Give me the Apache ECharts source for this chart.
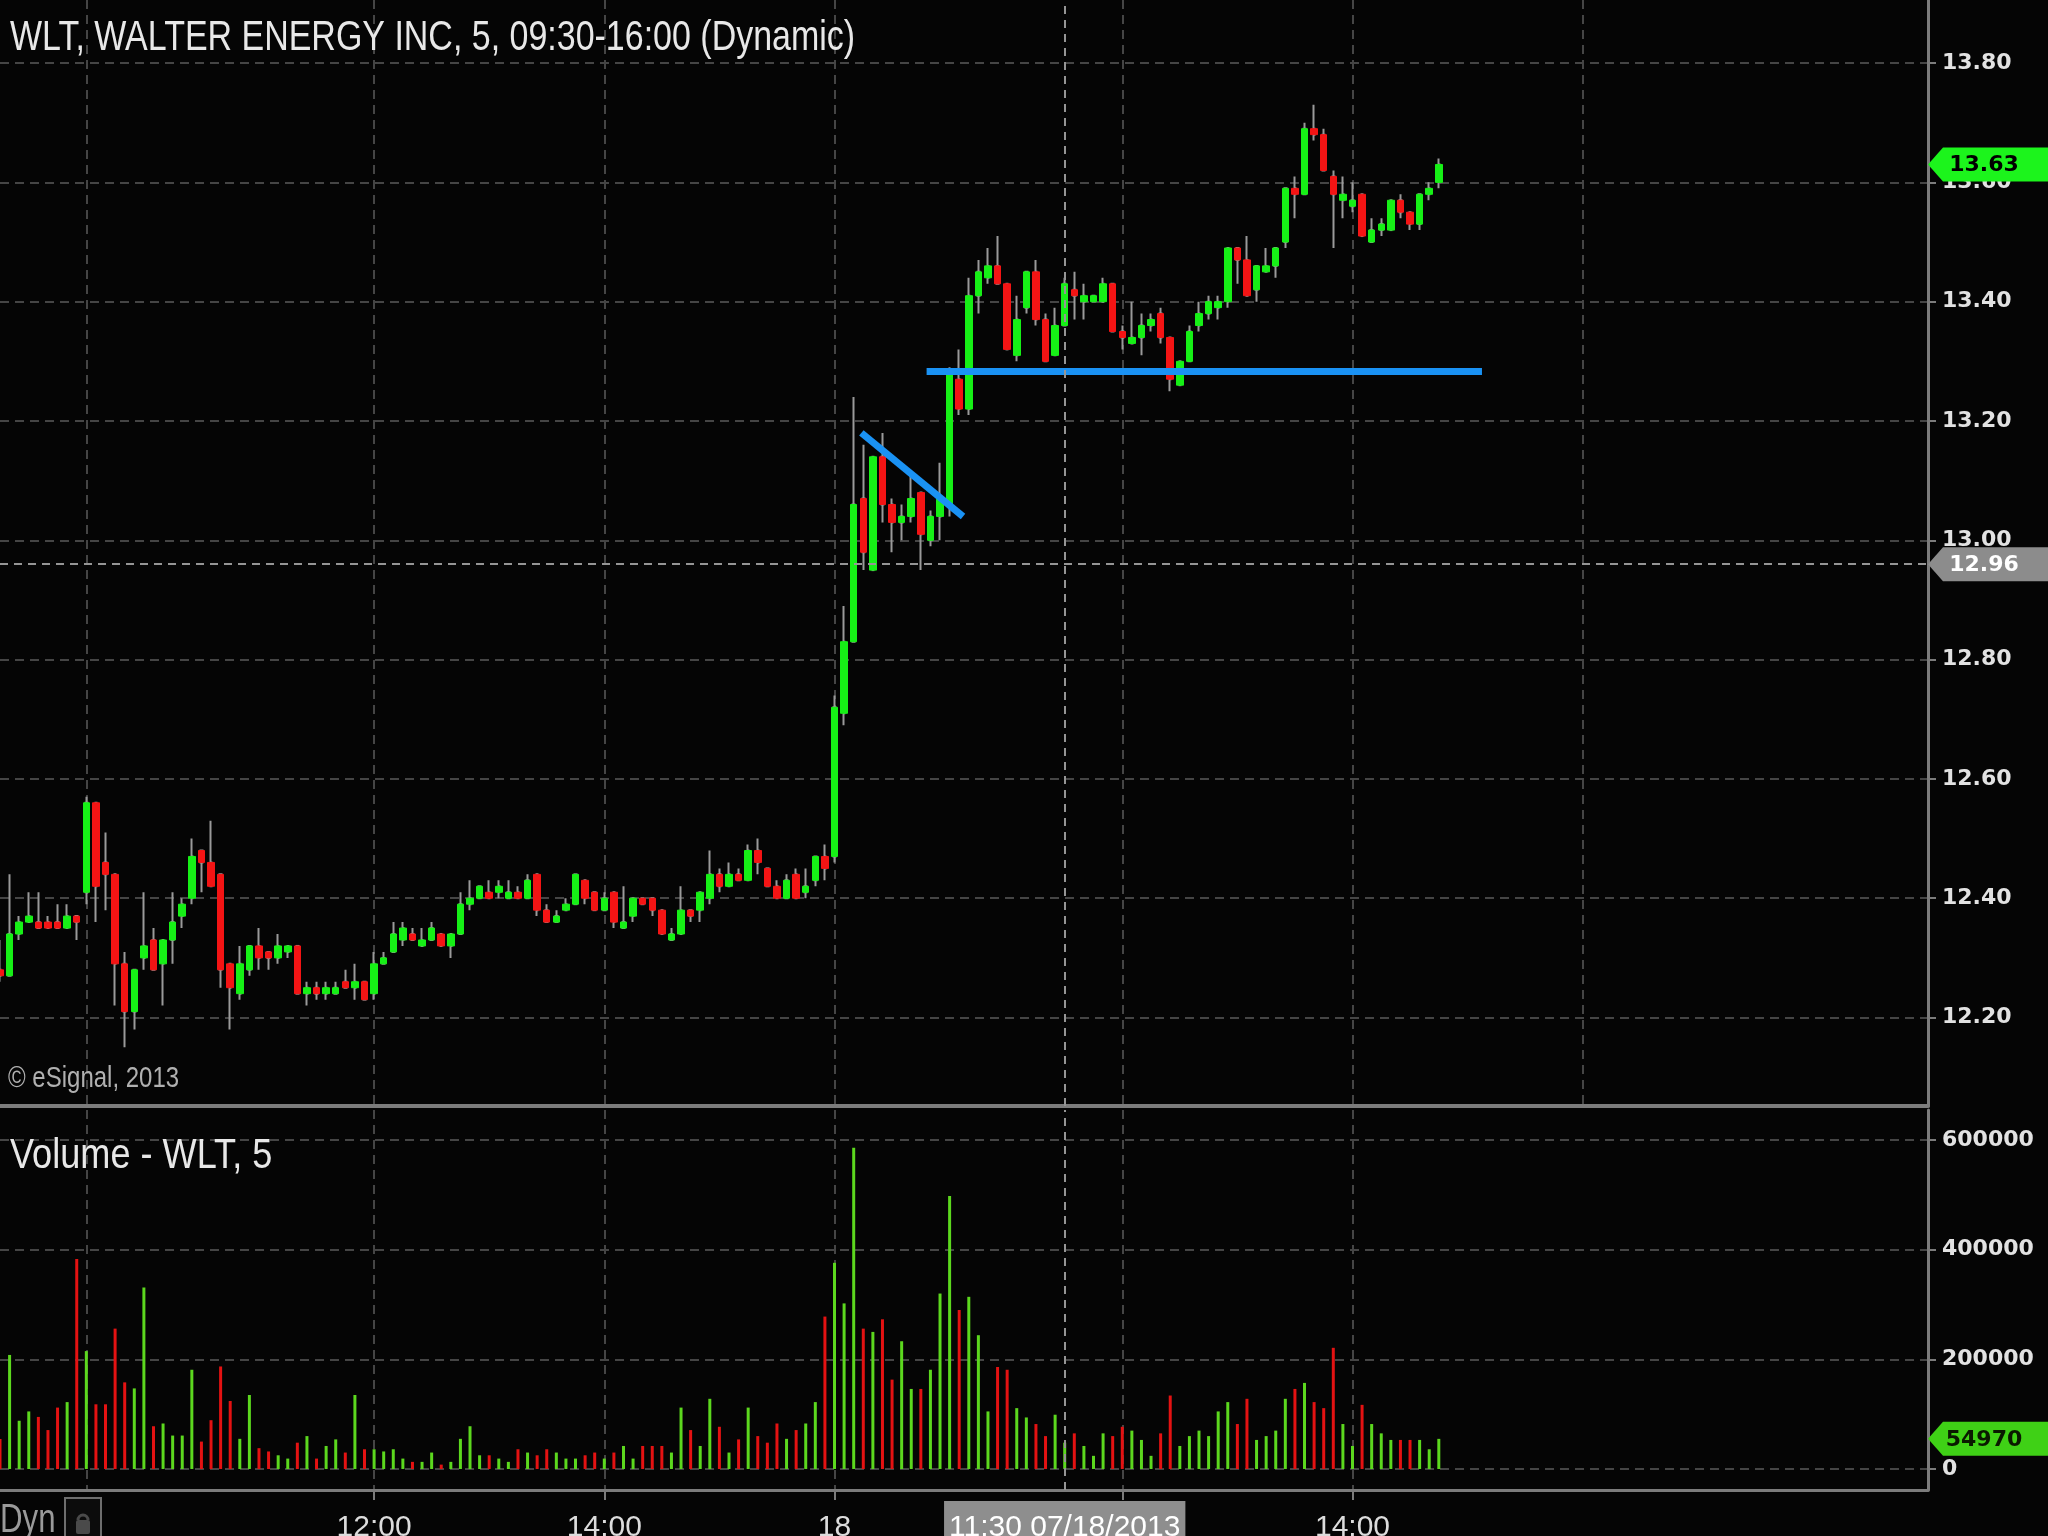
<!DOCTYPE html>
<html><head><meta charset="utf-8">
<script src="https://cdn.jsdelivr.net/npm/echarts@6/dist/echarts.min.js"></script>
<style>html,body{margin:0;padding:0;background:#050505;}#chart{width:2048px;height:1536px;}</style>
</head><body><div id="chart"></div>
<script>
// ---------- DATA ----------
// 5-minute bars, [open, close, low, high]
const day16Ohlc = [
[12.28,12.27,12.26,12.33],[12.27,12.34,12.27,12.44],[12.34,12.36,12.33,12.37],[12.36,12.37,12.36,12.41],
[12.36,12.35,12.35,12.41],[12.36,12.35,12.35,12.37],[12.36,12.35,12.35,12.39],[12.35,12.37,12.35,12.39],
[12.37,12.36,12.33,12.37]
];
const day17Ohlc = [
[12.41,12.56,12.39,12.57],[12.56,12.42,12.36,12.56],[12.46,12.44,12.38,12.51],[12.44,12.29,12.22,12.44],
[12.29,12.21,12.15,12.31],[12.21,12.28,12.18,12.28],[12.30,12.32,12.28,12.41],[12.33,12.28,12.28,12.35],
[12.29,12.33,12.22,12.33],[12.33,12.36,12.29,12.41],[12.37,12.39,12.35,12.40],[12.40,12.47,12.39,12.50],
[12.48,12.46,12.41,12.48],[12.46,12.42,12.42,12.53],[12.44,12.28,12.25,12.44],[12.29,12.25,12.18,12.29],
[12.24,12.29,12.23,12.32],[12.28,12.32,12.27,12.32],[12.32,12.30,12.28,12.35],[12.31,12.30,12.28,12.31],
[12.30,12.32,12.29,12.34],[12.31,12.32,12.30,12.32],[12.32,12.24,12.24,12.32],[12.24,12.25,12.22,12.26],
[12.25,12.24,12.23,12.26],[12.24,12.25,12.23,12.26],[12.24,12.25,12.24,12.26],[12.26,12.25,12.25,12.28],
[12.25,12.26,12.23,12.29],[12.26,12.23,12.23,12.26],[12.24,12.29,12.23,12.31],[12.29,12.30,12.29,12.31],
[12.31,12.34,12.31,12.36],[12.33,12.35,12.32,12.36],[12.34,12.33,12.33,12.35],[12.32,12.33,12.32,12.35],
[12.33,12.35,12.33,12.36],[12.34,12.32,12.32,12.34],[12.32,12.34,12.30,12.34],[12.34,12.39,12.34,12.41],
[12.39,12.40,12.38,12.43],[12.40,12.42,12.40,12.42],[12.41,12.40,12.40,12.43],[12.41,12.42,12.40,12.43],
[12.40,12.41,12.40,12.43],[12.41,12.40,12.40,12.42],[12.40,12.43,12.40,12.44],[12.44,12.38,12.37,12.44],
[12.38,12.36,12.36,12.39],[12.36,12.37,12.36,12.38],[12.38,12.39,12.38,12.40],[12.39,12.44,12.39,12.44],
[12.43,12.40,12.39,12.43],[12.41,12.38,12.38,12.41],[12.38,12.40,12.38,12.41],[12.41,12.36,12.35,12.41],
[12.35,12.36,12.35,12.42],[12.37,12.40,12.36,12.40],[12.40,12.39,12.39,12.40],[12.40,12.38,12.37,12.40],
[12.38,12.34,12.34,12.38],[12.33,12.34,12.33,12.35],[12.34,12.38,12.34,12.42],[12.38,12.37,12.36,12.38],
[12.38,12.41,12.36,12.41],[12.40,12.44,12.39,12.48],[12.44,12.42,12.41,12.45],[12.42,12.44,12.42,12.46],
[12.44,12.43,12.43,12.45],[12.43,12.48,12.43,12.49],[12.48,12.46,12.44,12.50],[12.45,12.42,12.42,12.45],
[12.42,12.40,12.40,12.43],[12.40,12.43,12.40,12.44],[12.44,12.40,12.40,12.45],[12.41,12.42,12.40,12.45],
[12.43,12.47,12.42,12.47],[12.47,12.45,12.43,12.49]
];
const day18Ohlc = [
[12.47,12.72,12.46,12.74],[12.71,12.83,12.69,12.89],[12.83,13.06,12.83,13.24],[13.07,12.98,12.95,13.16],
[12.95,13.14,12.95,13.14],[13.14,13.06,13.03,13.18],[13.06,13.03,12.98,13.07],[13.03,13.04,13.00,13.06],
[13.04,13.07,13.03,13.11],[13.08,13.01,12.95,13.08],[13.00,13.04,12.99,13.05],[13.04,13.07,13.00,13.13],
[13.06,13.28,13.04,13.29],[13.27,13.22,13.21,13.32],[13.22,13.41,13.21,13.44],[13.41,13.45,13.38,13.47],
[13.44,13.46,13.43,13.49],[13.46,13.43,13.43,13.51],[13.43,13.32,13.32,13.43],[13.31,13.37,13.30,13.41],
[13.39,13.45,13.38,13.45],[13.45,13.37,13.36,13.47],[13.37,13.30,13.30,13.38],[13.31,13.36,13.31,13.39],
[13.36,13.43,13.36,13.44],[13.42,13.41,13.37,13.45],[13.40,13.41,13.37,13.43],[13.40,13.41,13.40,13.41],
[13.40,13.43,13.40,13.44],[13.43,13.35,13.35,13.43],[13.35,13.34,13.32,13.36],[13.33,13.34,13.33,13.40],
[13.34,13.36,13.31,13.38],[13.36,13.37,13.35,13.38],[13.38,13.34,13.33,13.39],[13.34,13.27,13.25,13.34],
[13.26,13.30,13.26,13.30],[13.30,13.35,13.30,13.36],[13.36,13.38,13.35,13.40],[13.38,13.40,13.37,13.41],
[13.39,13.40,13.37,13.41],[13.40,13.49,13.39,13.49],[13.49,13.47,13.43,13.49],[13.47,13.41,13.41,13.51],
[13.42,13.46,13.40,13.46],[13.45,13.46,13.45,13.49],[13.46,13.49,13.44,13.49],[13.50,13.59,13.49,13.59],
[13.59,13.58,13.54,13.61],[13.58,13.69,13.58,13.70],[13.69,13.68,13.67,13.73],[13.68,13.62,13.62,13.69],
[13.61,13.58,13.49,13.62],[13.57,13.58,13.54,13.61],[13.56,13.57,13.55,13.60],[13.58,13.51,13.51,13.58],
[13.50,13.52,13.50,13.54],[13.52,13.53,13.51,13.54],[13.52,13.57,13.52,13.57],[13.57,13.55,13.54,13.58],
[13.55,13.53,13.52,13.55],[13.53,13.58,13.52,13.58],[13.58,13.59,13.57,13.60],[13.60,13.63,13.59,13.64]
];
const day16Volume = [54500,208000,88000,105000,95000,71000,112000,122000,383000];
const day17Volume = [
215000,118000,118000,256000,158000,147000,331000,78000,83000,61000,61000,181000,50000,89000,187000,124000,
55000,135000,38000,32000,25000,19000,48000,60000,19000,42000,54000,30000,135000,36000,36000,32000,
36000,19000,13000,13000,30000,8000,13000,55000,78000,25000,25000,19000,13000,36000,30000,25000,
36000,30000,19000,19000,25000,30000,19000,30000,42000,19000,42000,42000,42000,30000,112000,71000,
42000,128000,77000,30000,54000,112000,60000,48000,83000,55000,71000,83000,122000,278000
];
const day18Volume = [
376000,302000,586000,256000,250000,273000,163000,233000,146000,146000,181000,320000,498000,290000,314000,244000,
105000,186000,181000,111000,94000,82000,60000,99000,48000,65000,42000,24000,65000,60000,77000,70000,
53000,24000,65000,134000,42000,60000,70000,60000,105000,122000,82000,128000,53000,60000,70000,128000,
146000,157000,122000,111000,221000,82000,42000,117000,82000,65000,53000,53000,53000,53000,36000,54970
];
// trend lines drawn on the chart: [bar position (category index), price]
const trendDown = [[89.8, 13.18], [100.4, 13.04]];
const supportLine = [[96.6, 13.283], [154.5, 13.283]];
// crosshair
const crossTime = '07/18 11:30';
const crossTimeLabel = '11:30 07/18/2013';
const crossPrice = 12.96;
// time axis tick labels
const tickTimes = ['07/17 12:00', '07/17 14:00', '07/18 09:30', '07/18 14:00'];
const tickTexts = ['12:00', '14:00', '18', '14:00'];
const tickMarkTimes = ['07/17 12:00', '07/17 14:00', '07/18 09:30', '07/18 12:00', '07/18 14:00'];
const priceGridTimes = ['07/17 09:30', '07/17 12:00', '07/17 14:00', '07/18 09:30', '07/18 12:00', '07/18 14:00', '07/19 09:30'];
const volGridTimes = ['07/17 09:30', '07/17 12:00', '07/17 14:00', '07/18 09:30', '07/18 12:00', '07/18 14:00'];
// texts
const chartTitle = 'WLT, WALTER ENERGY INC, 5, 09:30-16:00 (Dynamic)';
const copyrightText = '© eSignal, 2013';
const volumeTitle = 'Volume - WLT, 5';
const dynText = 'Dyn';

// ---------- categories (5-min slots) ----------
function sessionSlots(day, fromIdx, count) {
  const out = [];
  for (let i = fromIdx; i < fromIdx + count; i++) {
    const m = 9 * 60 + 30 + i * 5;
    const hh = String(Math.floor(m / 60)).padStart(2, '0');
    const mm = String(m % 60).padStart(2, '0');
    out.push(day + ' ' + hh + ':' + mm);
  }
  return out;
}
const categories = [].concat(
  sessionSlots('07/16', 69, 9),
  sessionSlots('07/17', 0, 78),
  sessionSlots('07/18', 0, 78),
  sessionSlots('07/19', 0, 37)
);
const ohlc = day16Ohlc.concat(day17Ohlc, day18Ohlc);
const volume = day16Volume.concat(day17Volume, day18Volume);

const GREEN = '#16f016', RED = '#f41414', WICK = '#9a9a9a';
const VGREEN = '#5cd81e', VRED = '#e41212';
const SANS = "'Liberation Sans', Arial, sans-serif";
const AXISFONT = "'DejaVu Sans', Verdana, sans-serif";
const GRIDC = '#454545', FRAME = '#7c7c7c', CROSS = '#959595';

const catSet = (arr) => { const s = new Set(arr.map(t => categories.indexOf(t))); return (idx) => s.has(idx); };
const isPriceGrid = catSet(priceGridTimes);
const isVolGrid = catSet(volGridTimes);
const isTickMark = catSet(tickMarkTimes);
const crossIdx = categories.indexOf(crossTime);
const labelMap = {}; tickTimes.forEach((t, i) => { labelMap[categories.indexOf(t)] = '{n|' + tickTexts[i] + '}'; });
labelMap[crossIdx] = '{hl|' + crossTimeLabel + '}';

const lastIdx = categories.length - 1;
const lastClose = ohlc[ohlc.length - 1][1];
const lastVol = volume[volume.length - 1];
const tagPath = 'path://M0,17 L15,0 L120,0 L120,34 L15,34 Z';

const wickData = ohlc.map(d => [d[0], d[1], d[2], d[3]]);
const bodyData = ohlc.map(d => [d[0], d[1], Math.min(d[0], d[1]), Math.max(d[0], d[1])]);
const volData = volume.map((v, i) => ({ value: v, itemStyle: { color: ohlc[i][1] >= ohlc[i][0] ? VGREEN : VRED } }));

function narrowText(text, x, y, size, fill, sx) {
  return { type: 'text', x: x, y: y, scaleX: sx, silent: true, z: 10,
    style: { text: text, fill: fill, fontFamily: SANS, fontSize: size, align: 'left', verticalAlign: 'middle' } };
}

const chart = echarts.init(document.getElementById('chart'));
chart.setOption({
  backgroundColor: '#050505',
  animation: false,
  graphic: [
    narrowText(chartTitle, 10, 38, 43, '#e8e8e8', 0.79),
    narrowText(copyrightText, 8, 1079, 30, '#b0b0b0', 0.8),
    narrowText(volumeTitle, 10, 1156, 43, '#e8e8e8', 0.84),
    narrowText(dynText, 0, 1521, 40, '#9a9a9a', 0.78),
    { type: 'group', x: 65, y: 1498, silent: true, children: [
      { type: 'rect', shape: { x: 0, y: 0, width: 36, height: 44 }, style: { fill: '#0c0c0c', stroke: '#6e6e6e', lineWidth: 2 } },
      { type: 'rect', shape: { x: 11, y: 22, width: 14, height: 14, r: 2 }, style: { fill: '#4a4a4a' } },
      { type: 'arc', shape: { cx: 18, cy: 22, r: 5, startAngle: Math.PI, endAngle: 2 * Math.PI }, style: { stroke: '#4a4a4a', lineWidth: 3, fill: 'none' } }
    ] }
  ],
  grid: [
    { left: 0, top: 0, width: 1928, height: 1106, outerBoundsMode: 'none', containLabel: false },
    { left: 0, top: 1110, width: 1928, height: 380, outerBoundsMode: 'none', containLabel: false }
  ],
  xAxis: [
    { type: 'category', gridIndex: 0, data: categories, boundaryGap: false,
      axisLine: { show: true, onZero: false, lineStyle: { color: FRAME, width: 4 } },
      axisTick: { show: false }, axisLabel: { show: false },
      splitLine: { show: true, interval: (i) => isPriceGrid(i), lineStyle: { color: GRIDC, width: 2, type: [9, 6] } } },
    { type: 'category', gridIndex: 1, data: categories, boundaryGap: false,
      axisLine: { show: true, onZero: false, lineStyle: { color: FRAME, width: 3 } },
      axisTick: { show: true, interval: (i) => isTickMark(i), length: 10, lineStyle: { color: FRAME, width: 2 } },
      axisLabel: { show: true, interval: (i) => labelMap[i] !== undefined, formatter: (v, i) => labelMap[i] || '',
        color: '#dcdcdc', fontFamily: SANS, fontSize: 30, lineHeight: 30, margin: 19,
        rich: {
          n: { color: '#dcdcdc', fontFamily: SANS, fontSize: 30, lineHeight: 30, padding: [12, 5, 4, 5] },
          hl: { backgroundColor: '#8e8e8e', color: '#ffffff', fontFamily: SANS, fontSize: 30, lineHeight: 30, padding: [12, 5, 4, 5] }
        } },
      splitLine: { show: true, interval: (i) => isVolGrid(i), lineStyle: { color: GRIDC, width: 2, type: [9, 6] } } },
    { type: 'value', gridIndex: 0, min: 0, max: lastIdx, show: false,
      axisLine: { show: false, onZero: false }, splitLine: { show: false } }
  ],
  yAxis: [
    { type: 'value', gridIndex: 0, position: 'right', scale: true, min: 12.0517, max: 13.9057,
      minInterval: 0.2, maxInterval: 0.2, splitNumber: 9,
      axisLine: { show: true, onZero: false, lineStyle: { color: FRAME, width: 3 } },
      axisTick: { show: true, length: 8, lineStyle: { color: FRAME, width: 2 } },
      axisLabel: { show: true, margin: 14, showMinLabel: false, showMaxLabel: false, formatter: (v) => v.toFixed(2),
        color: '#e2e2e2', fontFamily: AXISFONT, fontSize: 22, fontWeight: 'bold' },
      splitLine: { show: true, showMinLine: false, showMaxLine: false, lineStyle: { color: GRIDC, width: 2, type: [9, 6] } } },
    { type: 'value', gridIndex: 1, position: 'right', min: -38300, max: 654700,
      minInterval: 200000, maxInterval: 200000, splitNumber: 3,
      axisLine: { show: true, onZero: false, lineStyle: { color: FRAME, width: 3 } },
      axisTick: { show: true, length: 8, lineStyle: { color: FRAME, width: 2 } },
      axisLabel: { show: true, margin: 14, showMinLabel: false, showMaxLabel: false, formatter: (v) => String(v),
        color: '#e2e2e2', fontFamily: AXISFONT, fontSize: 22, fontWeight: 'bold' },
      splitLine: { show: true, showMinLine: false, showMaxLine: false, lineStyle: { color: GRIDC, width: 2, type: [9, 6] } } }
  ],
  series: [
    { name: 'wick', type: 'candlestick', xAxisIndex: 0, yAxisIndex: 0, data: wickData, barWidth: 2,
      itemStyle: { color: WICK, color0: WICK, borderColor: WICK, borderColor0: WICK, borderWidth: 2 }, z: 2 },
    { name: 'WLT', type: 'candlestick', xAxisIndex: 0, yAxisIndex: 0, data: bodyData, barWidth: 7, clip: false,
      itemStyle: { color: GREEN, color0: RED, borderColor: GREEN, borderColor0: RED, borderWidth: 1 }, z: 3,
      markLine: { silent: true, symbol: 'none', label: { show: false }, animation: false,
        lineStyle: { color: CROSS, width: 2, type: [8, 6] },
        data: [{ xAxis: crossTime }, { yAxis: crossPrice }] },
      markPoint: { silent: true, animation: false, symbol: tagPath, symbolSize: [120, 34], symbolOffset: [60, 0],
        data: [
          { coord: [categories[lastIdx], lastClose], itemStyle: { color: '#1cf41c' },
            label: { show: true, position: 'inside', offset: [-4, 1], formatter: () => lastClose.toFixed(2), color: '#000', fontFamily: AXISFONT, fontSize: 22, fontWeight: 'bold' } },
          { coord: [categories[lastIdx], crossPrice], itemStyle: { color: '#8c8c8c' },
            label: { show: true, position: 'inside', offset: [-4, 1], formatter: () => crossPrice.toFixed(2), color: '#fff', fontFamily: AXISFONT, fontSize: 22, fontWeight: 'bold' } }
        ] } },
    { name: 'trendDown', type: 'line', xAxisIndex: 2, yAxisIndex: 0, data: trendDown, symbol: 'none', z: 4,
      lineStyle: { color: '#1a92f4', width: 7 } },
    { name: 'support', type: 'line', xAxisIndex: 2, yAxisIndex: 0, data: supportLine, symbol: 'none', z: 4,
      lineStyle: { color: '#1a92f4', width: 7 } },
    { name: 'Volume', type: 'bar', xAxisIndex: 1, yAxisIndex: 1, data: volData, barWidth: 3, clip: false, z: 2,
      markLine: { silent: true, symbol: 'none', label: { show: false }, animation: false,
        lineStyle: { color: CROSS, width: 2, type: [8, 6] }, data: [{ xAxis: crossTime }] },
      markPoint: { silent: true, animation: false, symbol: tagPath, symbolSize: [120, 34], symbolOffset: [60, 0],
        data: [{ coord: [categories[lastIdx], lastVol], itemStyle: { color: '#3fd116' },
          label: { show: true, position: 'inside', offset: [-4, 1], formatter: () => String(lastVol), color: '#0a1a00', fontFamily: AXISFONT, fontSize: 22, fontWeight: 'bold' } }] } }
  ]
});
</script></body></html>
